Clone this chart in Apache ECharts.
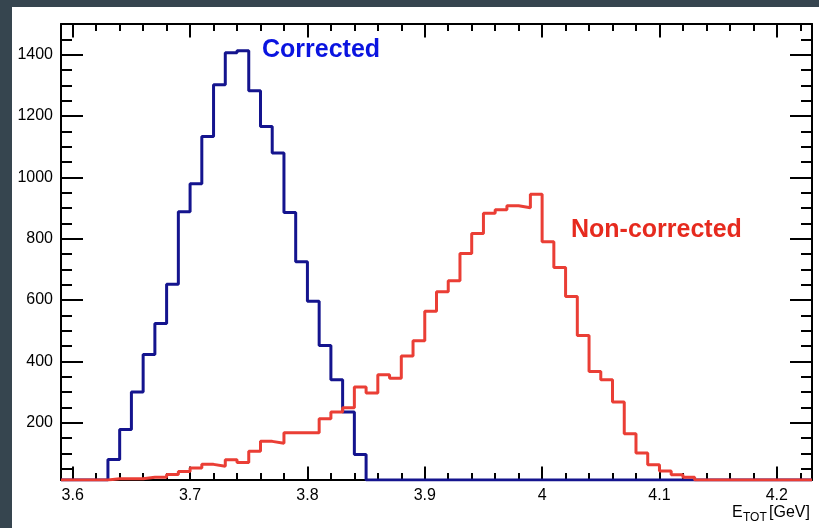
<!DOCTYPE html>
<html>
<head>
<meta charset="utf-8">
<script src="https://cdn.jsdelivr.net/npm/echarts@6/dist/echarts.min.js"></script>
<style>
  html, body { margin: 0; padding: 0; background: #36454f; width: 819px; height: 528px; overflow: hidden; }
  #chart { position: absolute; left: 12px; top: 7px; width: 807px; height: 521px; background: #ffffff; }
</style>
</head>
<body>
<div id="chart"></div>
<script>
// histogram binning (E_TOT in GeV)
var binStart = 3.59;
var binWidth = 0.01;

// counts per bin, first bin starts at 3.59
var corrected = [
  0, 0, 0, 0,
  80, 178, 300, 422, 523, 651, 888, 979, 1133, 1302,
  1406, 1413, 1282, 1166, 1079, 885, 725, 596, 452, 340, 235, 96,
  0, 0, 0, 0, 0, 0, 0, 0, 0, 0, 0, 0, 0, 0, 0, 0, 0, 0, 0,
  0, 0, 0, 0, 0, 0, 0, 0, 0, 0, 0, 0, 0, 0, 0, 0, 0, 0, 0
];
var nonCorrected = [
  0, 0, 0, 0,
  17, 17, 17, 22, 22, 31, 41, 52, 64, 58, 79, 70, 107, 139, 133,
  167, 167, 167, 213, 235, 249, 316, 297, 356, 345, 417, 467, 563,
  627, 663, 752, 817, 883, 894, 907, 901, 945, 790, 706, 611, 484,
  367, 340, 267, 164, 101, 63, 42, 30, 22,
  0, 0, 0, 0, 0, 0, 0, 0, 0, 0
];

var xTickLabels = [3.6, 3.7, 3.8, 3.9, 4.0, 4.1, 4.2];
var yTickLabels = [200, 400, 600, 800, 1000, 1200, 1400];

var xMin = 3.59, xMax = 4.23;
var yMin = 13, yMax = 1500;

var xMinor = [];
for (var t = 3.6; t < xMax; t += 0.02) xMinor.push(+t.toFixed(2));
var yMinor = [];
for (var m = 50; m <= yMax; m += 50) yMinor.push(m);

// step-histogram points: bin low edges plus closing edge
function toSteps(counts) {
  var pts = counts.map(function (c, i) {
    return [+(binStart + i * binWidth).toFixed(2), Math.max(c, yMin)];
  });
  pts.push([+(binStart + counts.length * binWidth).toFixed(2), Math.max(counts[counts.length - 1], yMin)]);
  return pts;
}

var font = 'Liberation Sans, Arial, Helvetica, sans-serif';
var lineStyle = { color: '#000', width: 2 };

function xAxisDef(pos, ticks, len, labels, line) {
  return {
    type: 'value', position: pos, min: xMin, max: xMax,
    axisLine: { show: line, onZero: false, lineStyle: lineStyle },
    axisTick: { show: true, inside: true, length: len, customValues: ticks, lineStyle: lineStyle },
    axisLabel: labels ? {
      show: true, customValues: labels, margin: 8, color: '#000', fontSize: 16, fontFamily: font,
      formatter: function (v) { return String(+(+v).toFixed(2)); }
    } : { show: false },
    splitLine: { show: false }
  };
}
function yAxisDef(pos, ticks, len, labels, line) {
  return {
    type: 'value', position: pos, min: yMin, max: yMax,
    axisLine: { show: line, onZero: false, lineStyle: lineStyle },
    axisTick: { show: true, inside: true, length: len, customValues: ticks, lineStyle: lineStyle },
    axisLabel: labels ? {
      show: true, customValues: labels, margin: 8, color: '#000', fontSize: 16, fontFamily: font,
      formatter: function (v) { return String(v); }
    } : { show: false },
    splitLine: { show: false }
  };
}

var chart = echarts.init(document.getElementById('chart'), null, { renderer: 'canvas' });

var option = {
  animation: false,
  backgroundColor: '#ffffff',
  textStyle: { fontFamily: font },
  grid: { left: 49, top: 17, right: 7, bottom: 48, containLabel: false, outerBoundsMode: 'none' },
  xAxis: [
    xAxisDef('bottom', xTickLabels, 13.5, xTickLabels, true),
    xAxisDef('bottom', xMinor, 7, null, false),
    xAxisDef('top', xTickLabels, 13.5, null, true),
    xAxisDef('top', xMinor, 7, null, false)
  ],
  yAxis: [
    yAxisDef('left', yTickLabels, 22, yTickLabels, true),
    yAxisDef('left', yMinor, 11, null, false),
    yAxisDef('right', yTickLabels, 22, null, true),
    yAxisDef('right', yMinor, 11, null, false)
  ],
  series: [
    {
      name: 'Corrected', type: 'line', step: 'end', showSymbol: false, clip: true,
      xAxisIndex: 0, yAxisIndex: 0,
      lineStyle: { color: '#14148e', width: 3 },
      data: toSteps(corrected)
    },
    {
      name: 'Non-corrected', type: 'line', step: 'end', showSymbol: false, clip: true,
      xAxisIndex: 0, yAxisIndex: 0,
      lineStyle: { color: '#ea3e35', width: 3 },
      data: toSteps(nonCorrected)
    }
  ],
  graphic: [
    { type: 'text', left: 250, top: 31, style: { text: 'Corrected', fill: '#0a14e0', font: 'bold 25px ' + font } },
    { type: 'text', left: 559, top: 211, style: { text: 'Non-corrected', fill: '#e62a1e', font: 'bold 25px ' + font } },
    { type: 'text', x: 720, y: 505.5, style: { text: 'E', fill: '#000', font: '16px ' + font, verticalAlign: 'middle' } },
    { type: 'text', x: 731, y: 510.5, style: { text: 'TOT', fill: '#000', font: '12px ' + font, verticalAlign: 'middle' } },
    { type: 'text', x: 757, y: 505.5, style: { text: '[GeV]', fill: '#000', font: '16px ' + font, verticalAlign: 'middle' } }
  ]
};

chart.setOption(option);
</script>
</body>
</html>
